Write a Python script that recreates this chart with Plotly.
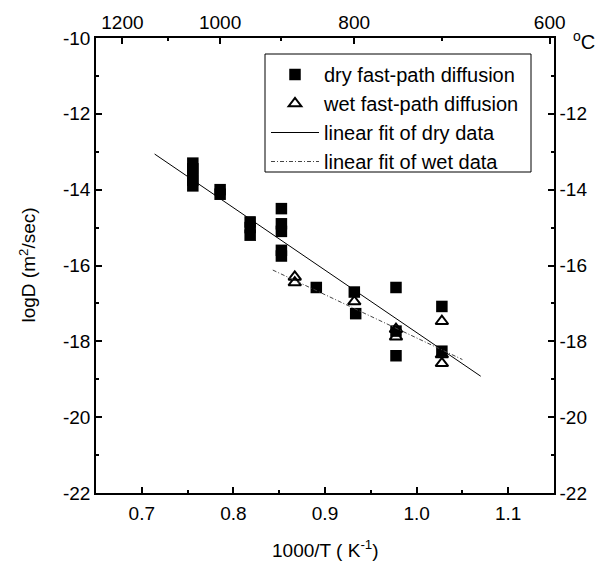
import plotly.graph_objects as go

# ---- data ----
dry_x = [0.7557]*5 + [0.7855]*2 + [0.8183]*3 + [0.8524]*5 + [0.8905] + [0.932, 0.9335] + [0.9775]*3 + [1.0276]*2
dry_y = [-13.3, -13.45, -13.6, -13.75, -13.9,
         -14.0, -14.12,
         -14.85, -15.0, -15.2,
         -14.5, -14.9, -15.1, -15.6, -15.75,
         -16.58,
         -16.7, -17.27,
         -16.58, -17.73, -18.38,
         -17.08, -18.26]
wet_x = [0.867, 0.867, 0.932, 0.9775, 0.9775, 1.0276, 1.0276, 1.0276]
wet_y = [-16.3, -16.45, -16.95, -17.68, -17.88, -17.47, -18.35, -18.58]
dryfit_x = [0.714, 1.07]
dryfit_y = [-13.06, -18.92]
wetfit_x = [0.843, 1.05]
wetfit_y = [-16.12, -18.48]

x_ticks = [0.7, 0.8, 0.9, 1.0, 1.1]
x_ticklabels = ["0.7", "0.8", "0.9", "1.0", "1.1"]
y_ticks = [-10, -12, -14, -16, -18, -20, -22]
y_ticklabels = ["-10", "-12", "-14", "-16", "-18", "-20", "-22"]
y_ticklabels_right = ["", "-12", "-14", "-16", "-18", "-20", "-22"]
celsius_major = [1200, 1000, 800, 600]
celsius_minor = [1100, 900, 700]

top_vals = [1000.0 / (c + 273.15) for c in celsius_major]
top_minor = [1000.0 / (c + 273.15) for c in celsius_minor]

FONT = "Liberation Sans, Arial, sans-serif"
fs = 19
W, H = 599, 573
ML, MR, MT, MB = 96, 45, 38, 80
PW, PH = W - ML - MR, H - MT - MB


def px_x(p):  # pixel -> paper x
    return (p - ML) / PW


def px_y(p):  # pixel -> paper y
    return 1 - (p - MT) / PH


fig = go.Figure()
fig.add_trace(go.Scatter(x=dry_x, y=dry_y, mode="markers", name="dry fast-path diffusion",
                         marker=dict(symbol="square", size=11.5, color="black", line=dict(width=0))))
fig.add_trace(go.Scatter(x=wet_x, y=wet_y, mode="markers", name="wet fast-path diffusion",
                         marker=dict(symbol="triangle-up-open", size=11, color="black",
                                     line=dict(width=2, color="black"))))
fig.add_trace(go.Scatter(x=dryfit_x, y=dryfit_y, mode="lines", name="linear fit of dry data",
                         line=dict(color="black", width=1)))
fig.add_trace(go.Scatter(x=wetfit_x, y=wetfit_y, mode="lines", name="linear fit of wet data",
                         line=dict(color="#444444", width=1, dash="4px,2px,1px,2px")))
fig.add_trace(go.Scatter(x=[], y=[], xaxis="x2", yaxis="y2", showlegend=False))

axis_common = dict(showgrid=False, zeroline=False, showline=True, linecolor="black", linewidth=1.5,
                   ticks="inside", ticklen=6, tickwidth=1.5, tickcolor="black", automargin=False,
                   tickfont=dict(family=FONT, size=fs, color="black"))
minor_common = dict(ticks="inside", ticklen=3, tickcolor="black", tickwidth=1.5)

fig.update_layout(
    width=W, height=H,
    margin=dict(l=ML, r=MR, t=MT, b=MB),
    plot_bgcolor="white", paper_bgcolor="white",
    font=dict(family=FONT, size=fs, color="black"),
    xaxis=dict(range=[0.65, 1.15], tickvals=x_ticks, ticktext=x_ticklabels,
               minor=dict(tickvals=[0.75, 0.85, 0.95, 1.05], **minor_common),
               ticklabelstandoff=2, **axis_common),
    yaxis=dict(range=[-22, -10], tickvals=y_ticks, ticktext=y_ticklabels,
               minor=dict(tickvals=[-11, -13, -15, -17, -19, -21], **minor_common),
               **axis_common),
    xaxis2=dict(range=[0.65, 1.15], overlaying="x", side="top", anchor="y",
                tickvals=top_vals, ticktext=[str(c) for c in celsius_major],
                minor=dict(tickvals=top_minor, **minor_common),
                ticklabelstandoff=0, **axis_common),
    yaxis2=dict(range=[-22, -10], overlaying="y", side="right", anchor="x",
                tickvals=y_ticks, ticktext=y_ticklabels_right,
                minor=dict(tickvals=[-11, -13, -15, -17, -19, -21], **minor_common),
                ticklabelstandoff=0, **axis_common),
    legend=dict(x=px_x(266), y=px_y(55), xanchor="left", yanchor="top",
                borderwidth=0, bgcolor="rgba(0,0,0,0)",
                font=dict(family=FONT, size=20), itemwidth=48, tracegroupgap=0),
    showlegend=True,
)

# legend frame
fig.add_shape(type="rect", xref="paper", yref="paper",
              x0=px_x(265), x1=px_x(531), y0=px_y(172), y1=px_y(54),
              line=dict(color="black", width=1), fillcolor="white", layer="above")

# axis titles
fig.add_annotation(text="1000/T ( K<sup>-1</sup>)", xref="paper", yref="paper", x=0.5, y=0,
                   yshift=-56, showarrow=False, xanchor="center", yanchor="middle",
                   font=dict(family=FONT, size=fs, color="black"))
fig.add_annotation(text="logD (m<sup>2</sup>/sec)", xref="paper", yref="paper", x=0, y=0.5,
                   xshift=-69, showarrow=False, xanchor="center", yanchor="middle", textangle=-90,
                   font=dict(family=FONT, size=fs, color="black"))
fig.add_annotation(text="<sup>o</sup>C", xref="paper", yref="paper", x=1.0, y=1.0,
                   xshift=17, yshift=-2, showarrow=False, xanchor="left", yanchor="middle",
                   font=dict(family=FONT, size=fs + 1, color="black"))

fig.write_html("out.html", config={"displayModeBar": False},
               post_script="document.body.style.margin='0px';document.body.style.overflow='hidden';")
